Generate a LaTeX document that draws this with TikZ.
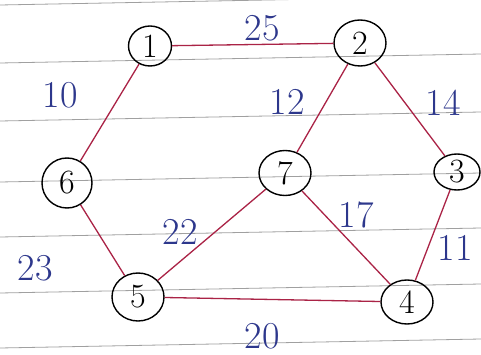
\documentclass[tikz,border=0pt]{standalone}
\usetikzlibrary{shapes.geometric}
\definecolor{edgecol}{RGB}{170,35,70}
\definecolor{labcol}{RGB}{45,55,140}
\definecolor{rulecol}{RGB}{160,160,160}
\begin{document}
\begin{tikzpicture}[x=1pt,y=-1pt,
  vtx/.style={draw=black,line width=1.4pt,ellipse,inner sep=0pt,font=\fontsize{34}{34}\selectfont},
  edge/.style={draw=edgecol,line width=1.3pt},
  wlab/.style={text=labcol,font=\fontsize{38}{38}\selectfont,inner sep=1pt},
  ruleline/.style={draw=rulecol,line width=0.8pt}]
\useasboundingbox (0,0) rectangle (481,355);
\fill[white] (0,0) rectangle (481,355);
% ruled paper
\foreach \yy in {5,63,121,182,237,293,348}
  \draw[ruleline] (0,\yy) -- (481,\yy-9);
% vertices
\node[vtx,minimum width=43pt,minimum height=40pt] (n1) at (150,46) {1};
\node[vtx,minimum width=52pt,minimum height=46pt] (n2) at (360,43) {2};
\node[vtx,minimum width=46pt,minimum height=36pt] (n3) at (457,172) {3};
\node[vtx,minimum width=52pt,minimum height=44pt] (n4) at (407,302) {4};
\node[vtx,minimum width=52pt,minimum height=48pt] (n5) at (138,297) {5};
\node[vtx,minimum width=50pt,minimum height=50pt] (n6) at (67,183) {6};
\node[vtx,minimum width=52pt,minimum height=45pt] (n7) at (285,173) {7};
% edges
\draw[edge] (n1) -- (n2);
\draw[edge] (n1) -- (n6);
\draw[edge] (n6) -- (n5);
\draw[edge] (n5) -- (n7);
\draw[edge] (n7) -- (n2);
\draw[edge] (n2) -- (n3);
\draw[edge] (n3) -- (n4);
\draw[edge] (n7) -- (n4);
\draw[edge] (n5) -- (n4);
% weights
\node[wlab] (w25) at (262,28) {25};
\node[wlab] (w10) at (60,95) {10};
\node[wlab] (w12) at (287,102) {12};
\node[wlab] (w14) at (443,103) {14};
\node[wlab] (w22) at (180,232) {22};
\node[wlab] (w23) at (35,268) {23};
\node[wlab] (w17) at (356,215) {17};
\node[wlab] (w11) at (455,248) {11};
\node[wlab] (w20) at (262,336) {20};
\end{tikzpicture}
\end{document}
